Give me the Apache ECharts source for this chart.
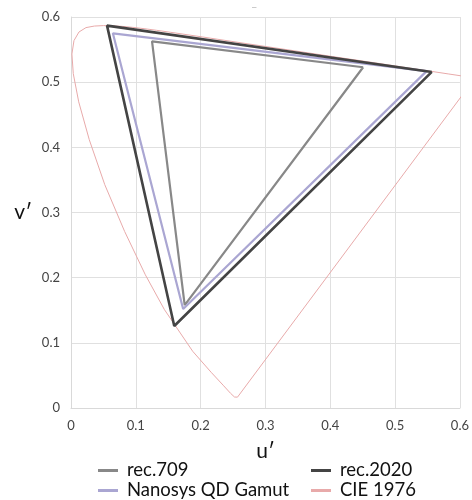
<!DOCTYPE html>
<html><head><meta charset="utf-8">
<script src="https://cdn.jsdelivr.net/npm/echarts@6/dist/echarts.min.js"></script>
<style>html,body{margin:0;padding:0;background:#fff}#c{width:472px;height:500px}</style>
</head><body><div id="c"></div>
<script>
// gamut primaries (u', v'): R, G, B
const rec709U = [0.4507, 0.1250, 0.1754];
const rec709V = [0.5229, 0.5625, 0.1579];
const rec2020U = [0.5566, 0.0556, 0.1593];
const rec2020V = [0.5157, 0.5868, 0.1258];
const nanosysU = [0.5486, 0.0646, 0.1730];
const nanosysV = [0.5170, 0.5750, 0.1520];
// CIE 1976 spectral locus (380..700 nm) closed by line of purples
const cieU = [0.2568,0.2557,0.2522,0.2461,0.2347,0.2161,0.1877,0.1441,0.1147,0.0828,0.0521,0.0282,0.0119,0.0035,0.0014,0.0046,0.0123,0.0231,0.0360,0.0501,0.0643,0.0792,0.0953,0.1127,0.1319,0.1531,0.2026,0.2623,0.3315,0.4035,0.4692,0.5203,0.5565,0.5830,0.6005,0.6234,0.2568];
const cieV = [0.0166,0.0159,0.0169,0.0226,0.0350,0.0549,0.0871,0.1510,0.2044,0.2708,0.3427,0.4117,0.4698,0.5131,0.5432,0.5638,0.5770,0.5837,0.5861,0.5868,0.5865,0.5856,0.5841,0.5821,0.5796,0.5766,0.5694,0.5604,0.5501,0.5393,0.5296,0.5219,0.5165,0.5125,0.5099,0.5065,0.0166];
const ticks = [0, 0.1, 0.2, 0.3, 0.4, 0.5, 0.6];
const seriesNames = ['rec.709', 'Nanosys QD Gamut', 'rec.2020', 'CIE 1976'];

function closed(us, vs) {
  const d = us.map((u, i) => [u, vs[i]]);
  d.push([us[0], vs[0]]);
  return d;
}
function pairs(us, vs) { return us.map((u, i) => [u, vs[i]]); }

const font = 'Lato, "Noto Sans", sans-serif';
const chart = echarts.init(document.getElementById('c'), null, {renderer: 'canvas'});
const axisCommon = {
  type: 'value', min: ticks[0], max: ticks[ticks.length - 1], interval: 0.1,
  axisLine: {show: true, lineStyle: {color: '#d9d9d9'}},
  axisTick: {show: false},
  splitLine: {show: true, lineStyle: {color: '#e0e0e0', width: 1}},
  axisLabel: {color: '#444', fontSize: 13, fontFamily: font, formatter: v => String(+v.toFixed(1))},
  nameTextStyle: {color: '#111', fontSize: 21, fontFamily: font}
};
const legendPos = [[93, 456], [93, 476], [306, 456], [306, 476]];
const legends = seriesNames.map((n, i) => ({
  left: legendPos[i][0], top: legendPos[i][1], icon: 'rect', itemWidth: 20, itemHeight: 3, itemGap: 0,
  textStyle: {fontSize: 18.5, color: '#111', fontFamily: font, padding: [0, 0, 0, 4]}, data: [n]
}));
chart.setOption({
  animation: false,
  title: {text: '–', left: 247, top: -2, textStyle: {fontSize: 8, color: '#999', fontWeight: 'normal'}},
  grid: {left: 71, right: 12, top: 17, bottom: 92},
  xAxis: Object.assign({}, axisCommon, {name: 'u′', nameLocation: 'middle', nameGap: 33,
    axisLabel: Object.assign({}, axisCommon.axisLabel, {margin: 11})}),
  yAxis: Object.assign({}, axisCommon, {name: 'v′', nameLocation: 'middle', nameGap: 39, nameRotate: 0,
    axisLabel: Object.assign({}, axisCommon.axisLabel, {margin: 11})}),
  legend: legends,
  series: [
    {name: 'CIE 1976', type: 'line', data: pairs(cieU, cieV), showSymbol: false, symbol: 'none',
     color: '#e8aaaa', lineStyle: {color: '#e8aaaa', width: 1}, z: 1},
    {name: 'rec.709', type: 'line', data: closed(rec709U, rec709V), showSymbol: false, symbol: 'none',
     color: '#888888', lineStyle: {color: '#888888', width: 2.2}, z: 2},
    {name: 'Nanosys QD Gamut', type: 'line', data: closed(nanosysU, nanosysV), showSymbol: false, symbol: 'none',
     color: '#aaa6d2', lineStyle: {color: '#aaa6d2', width: 2.2}, z: 3},
    {name: 'rec.2020', type: 'line', data: closed(rec2020U, rec2020V), showSymbol: false, symbol: 'none',
     color: '#444444', lineStyle: {color: '#444444', width: 2.6}, z: 4}
  ]
});
</script></body></html>
